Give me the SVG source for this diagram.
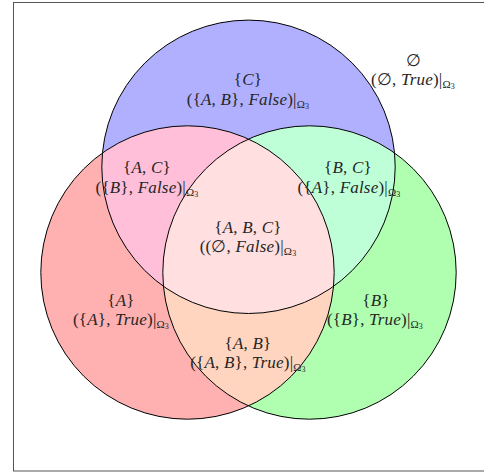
<svg xmlns="http://www.w3.org/2000/svg" width="484" height="472" viewBox="0 0 484 472">
<style>
text{font-family:"Liberation Serif","DejaVu Serif",serif;font-size:17px;fill:#262626;text-anchor:middle;letter-spacing:0.2px}
.i{font-style:italic}
.s{font-size:11px}
.ss{font-size:8px}
.edge{fill:none;stroke:#000;stroke-width:1}
</style>
<defs>
<clipPath id="clipA"><circle cx="187.5" cy="272.5" r="146.7"/></clipPath>
<clipPath id="clipB"><circle cx="309.5" cy="272.5" r="146.7"/></clipPath>
</defs>
<rect x="13.5" y="2.5" width="480" height="468.5" fill="#fff" stroke="#555" stroke-width="1"/>
<g id="fills">
<circle cx="187.5" cy="272.5" r="146.7" fill="#ffb0b0"/>
<circle cx="309.5" cy="272.5" r="146.7" fill="#b0ffb0"/>
<circle cx="248.5" cy="166.8" r="146.7" fill="#b0b0ff"/>
<g clip-path="url(#clipA)">
<circle cx="309.5" cy="272.5" r="146.7" fill="#ffd5bf"/>
<circle cx="248.5" cy="166.8" r="146.7" fill="#ffbfd8"/>
</g>
<g clip-path="url(#clipB)">
<circle cx="248.5" cy="166.8" r="146.7" fill="#bfffd8"/>
<g clip-path="url(#clipA)">
<circle cx="248.5" cy="166.8" r="146.7" fill="#ffdfdf"/>
</g>
</g>
</g>
<g id="setA"><circle class="edge" cx="187.5" cy="272.5" r="146.7"/></g>
<g id="setB"><circle class="edge" cx="309.5" cy="272.5" r="146.7"/></g>
<g id="setC"><circle class="edge" cx="248.5" cy="166.8" r="146.7"/></g>
<g id="r_empty">
<text x="414" y="66">∅</text>
<text x="413" y="85">(∅, <tspan class="i">True</tspan>)|<tspan class="s" dy="3">Ω</tspan><tspan class="ss" dy="1">3</tspan></text>
</g>
<g id="r_C">
<text x="248" y="85">{<tspan class="i">C</tspan>}</text>
<text x="248" y="105">({<tspan class="i">A</tspan>, <tspan class="i">B</tspan>}, <tspan class="i">False</tspan>)|<tspan class="s" dy="3">Ω</tspan><tspan class="ss" dy="1">3</tspan></text>
</g>
<g id="r_AC">
<text x="147" y="173">{<tspan class="i">A</tspan>, <tspan class="i">C</tspan>}</text>
<text x="147" y="193">({<tspan class="i">B</tspan>}, <tspan class="i">False</tspan>)|<tspan class="s" dy="3">Ω</tspan><tspan class="ss" dy="1">3</tspan></text>
</g>
<g id="r_BC">
<text x="348" y="173">{<tspan class="i">B</tspan>, <tspan class="i">C</tspan>}</text>
<text x="349" y="193">({<tspan class="i">A</tspan>}, <tspan class="i">False</tspan>)|<tspan class="s" dy="3">Ω</tspan><tspan class="ss" dy="1">3</tspan></text>
</g>
<g id="r_ABC">
<text x="248" y="233">{<tspan class="i">A</tspan>, <tspan class="i">B</tspan>, <tspan class="i">C</tspan>}</text>
<text x="248" y="252">((∅, <tspan class="i">False</tspan>)|<tspan class="s" dy="3">Ω</tspan><tspan class="ss" dy="1">3</tspan></text>
</g>
<g id="r_A">
<text x="121" y="306">{<tspan class="i">A</tspan>}</text>
<text x="121" y="325">({<tspan class="i">A</tspan>}, <tspan class="i">True</tspan>)|<tspan class="s" dy="3">Ω</tspan><tspan class="ss" dy="1">3</tspan></text>
</g>
<g id="r_B">
<text x="376" y="306">{<tspan class="i">B</tspan>}</text>
<text x="375" y="325">({<tspan class="i">B</tspan>}, <tspan class="i">True</tspan>)|<tspan class="s" dy="3">Ω</tspan><tspan class="ss" dy="1">3</tspan></text>
</g>
<g id="r_AB">
<text x="248" y="349">{<tspan class="i">A</tspan>, <tspan class="i">B</tspan>}</text>
<text x="248" y="368">({<tspan class="i">A</tspan>, <tspan class="i">B</tspan>}, <tspan class="i">True</tspan>)|<tspan class="s" dy="3">Ω</tspan><tspan class="ss" dy="1">3</tspan></text>
</g>
</svg>
